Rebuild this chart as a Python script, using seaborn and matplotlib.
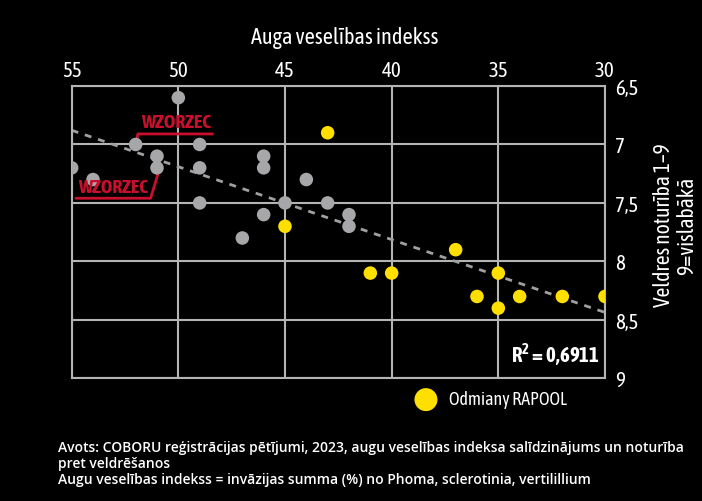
import numpy as np
import pandas as pd
import matplotlib
matplotlib.use("Agg")
import matplotlib.pyplot as plt
import seaborn as sns

# Data
other_x = [50, 52, 49, 51, 51, 49, 55, 54, 46, 46, 44, 49, 45, 43, 46, 42, 42, 47]
other_y = [6.6, 7.0, 7.0, 7.1, 7.2, 7.2, 7.2, 7.3, 7.1, 7.2, 7.3, 7.5, 7.5, 7.5, 7.6, 7.6, 7.7, 7.8]
rapool_x = [43, 45, 37, 41, 40, 35, 36, 34, 32, 30, 35]
rapool_y = [6.9, 7.7, 7.9, 8.1, 8.1, 8.1, 8.3, 8.3, 8.3, 8.3, 8.4]
x_ticks = [55, 50, 45, 40, 35, 30]
y_ticks = [6.5, 7.0, 7.5, 8.0, 8.5, 9.0]
y_tick_labels = ["6,5", "7", "7,5", "8", "8,5", "9"]
r2_label = "R$^\\mathbf{2}$ = 0,6911"
legend_label = "Odmiany RAPOOL"
x_title = "Auga veselības indekss"
y_title = "Veldres noturība 1–9\n9=vislabākā"
footer = ("Avots: COBORU reģistrācijas pētījumi, 2023, augu veselības indeksa salīdzinājums un noturība\n"
          "pret veldrēšanos\n"
          "Augu veselības indekss = invāzijas summa (%) no Phoma, sclerotinia, vertilillium")
wzorzec_top = (52, 7.0)
wzorzec_bottom = (51, 7.2)

sns.set_theme(style="dark")
plt.rcParams['font.family'] = ['Asap Condensed', 'Open Sans', 'DejaVu Sans']
plt.rcParams['mathtext.fontset'] = 'custom'
plt.rcParams['mathtext.bf'] = 'Asap Condensed:bold'
plt.rcParams['mathtext.rm'] = 'Asap Condensed'

BG = "black"
GRID = "#b4b4b4"
GRAY = "#a7a7a9"
YEL = "#ffdf00"
RED = "#c8102e"

fig = plt.figure(figsize=(7.02, 5.02), dpi=100, facecolor=BG)
ax = fig.add_axes([0.1021, 0.2444, 0.7597, 0.5823])
ax.set_facecolor(BG)

df_o = pd.DataFrame({"x": other_x, "y": other_y})
df_r = pd.DataFrame({"x": rapool_x, "y": rapool_y})

ax.set_xlim(55, 30)
ax.set_ylim(9, 6.5)

allx = np.array(other_x + rapool_x, float)
ally = np.array(other_y + rapool_y, float)
k, b = np.polyfit(allx, ally, 1)
lx = np.array([55, 30], float)
ax.plot(lx, k * lx + b, ls=(0, (2.5, 2.5)), color="#a0a0a0", lw=2, zorder=2)

sns.scatterplot(data=df_o, x="x", y="y", ax=ax, color=GRAY, s=95, edgecolor="none", zorder=3)
sns.scatterplot(data=df_r, x="x", y="y", ax=ax, color=YEL, s=95, edgecolor="none", zorder=3,
                label=legend_label)

ax.set_xticks(x_ticks)
ax.set_xticklabels([str(v) for v in x_ticks])
ax.set_yticks(y_ticks)
ax.set_yticklabels(y_tick_labels)
ax.xaxis.tick_top()
ax.yaxis.tick_right()
ax.tick_params(axis="both", length=0, colors="white", labelsize=15)
ax.tick_params(axis="x", pad=4)
ax.tick_params(axis="y", pad=7)
ax.set_xlabel("")
ax.set_ylabel("")
ax.grid(True, color=GRID, lw=1.5)
for s in ax.spines.values():
    s.set_color(GRID)
    s.set_linewidth(1.5)
    s.set_visible(True)

ax.text(30.25, 8.79, r2_label, color="white", fontsize=15, fontweight="bold",
        ha="right", va="center", zorder=4)

# WZORZEC annotations
px, py = wzorzec_top
ax.plot([px - 0.05, px - 0.1, px - 3.6], [py - 0.03, py - 0.09, py - 0.09], color=RED, lw=2, zorder=2)
ax.text(px - 0.25, py - 0.115, "WZORZEC", color=RED, fontsize=14, fontweight="bold", ha="left", va="bottom")
px, py = wzorzec_bottom
ax.plot([px - 0.05, px + 0.3, px + 3.8], [py + 0.05, py + 0.26, py + 0.26], color=RED, lw=2, zorder=2)
ax.text(px + 3.7, py + 0.245, "WZORZEC", color=RED, fontsize=14, fontweight="bold", ha="left", va="bottom",
        zorder=4)

fig.text(0.491, 0.925, x_title, color="white", fontsize=16, ha="center", va="center")
fig.text(0.962, 0.551, y_title, color="white", fontsize=15.5, ha="center", va="center",
         rotation=90, linespacing=1.05)

ax.legend(loc="center left", bbox_to_anchor=(0.644, -0.072), frameon=False, fontsize=13,
          labelcolor="white", markerscale=1.7, handlelength=1.2, handletextpad=0.69,
          borderpad=0, borderaxespad=0)

fig.text(0.083, 0.076, footer, color="white", fontsize=10, fontweight="semibold",
         family=["Open Sans", "DejaVu Sans"], ha="left", va="center", linespacing=1.2)

fig.savefig("out.png", dpi=100, facecolor=BG)
